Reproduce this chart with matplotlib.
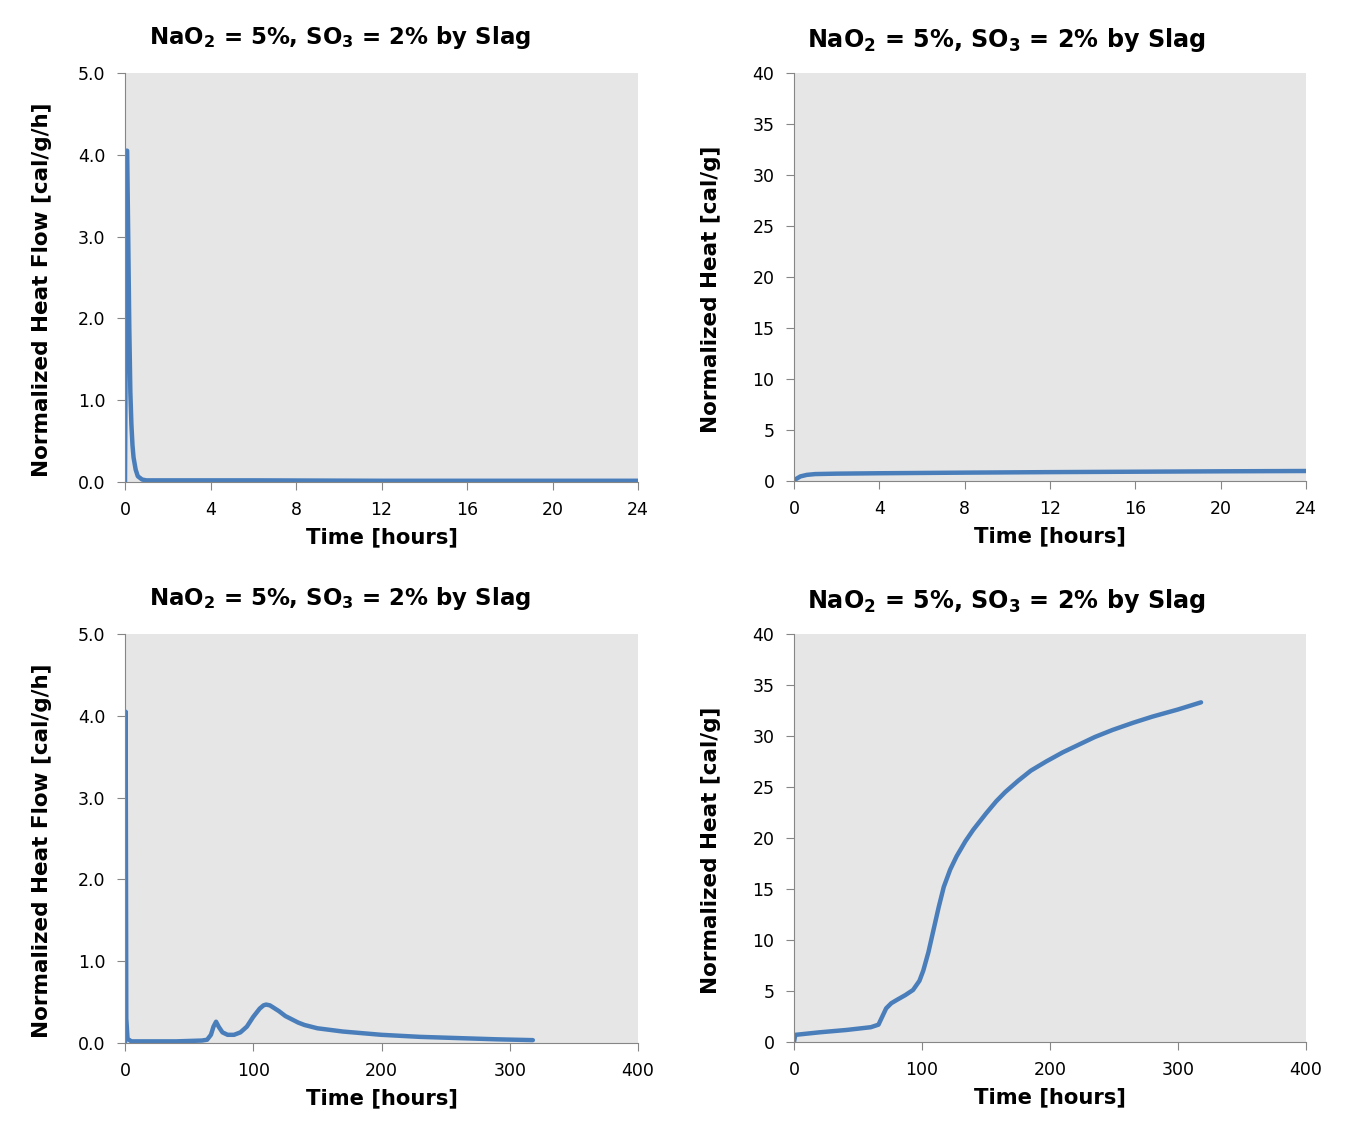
import matplotlib
matplotlib.use("Agg")
import matplotlib.pyplot as plt

plt.rcParams['font.family'] = ['DejaVu Sans']
plt.rcParams['mathtext.default'] = 'bf'

title = "NaO$_2$ = 5%, SO$_3$ = 2% by Slag"

# heat flow, first 24 h
flow24_t = [0, 0.03, 0.06, 0.1, 0.15, 0.2, 0.25, 0.3, 0.35, 0.4, 0.5, 0.6, 0.8, 1, 3, 6, 12, 18, 24]
flow24_q = [0, 1.5, 4.05, 4.05, 3.0, 1.9, 1.1, 0.7, 0.45, 0.3, 0.15, 0.07, 0.03, 0.02, 0.02, 0.02, 0.015, 0.015, 0.015]

# cumulative heat, first 24 h
heat24_t = [0, 0.1, 0.3, 0.6, 1, 2, 4, 8, 12, 16, 20, 24]
heat24_q = [0, 0.2, 0.45, 0.6, 0.68, 0.72, 0.76, 0.82, 0.87, 0.91, 0.95, 0.98]

# heat flow, full run
flow_t = [0, 0.5, 1, 2, 5, 20, 40, 60, 64, 67, 69, 71, 73, 76, 80, 85, 90, 95, 100, 105,
          108, 110, 113, 116, 120, 125, 130, 135, 140, 150, 160, 170, 185, 200, 230, 260, 290, 318]
flow_q = [0, 4.05, 0.3, 0.05, 0.02, 0.02, 0.02, 0.03, 0.04, 0.1, 0.2, 0.26, 0.2, 0.13, 0.1, 0.1,
          0.13, 0.2, 0.32, 0.42, 0.46, 0.47, 0.46, 0.43, 0.39, 0.33, 0.29, 0.25, 0.22, 0.18, 0.16,
          0.14, 0.12, 0.1, 0.075, 0.06, 0.045, 0.035]

# cumulative heat, full run
heat_t = [0, 1, 20, 41, 60, 66, 69, 72, 76, 80, 87, 93, 98, 101, 105, 109, 113, 117, 122, 127,
          134, 140, 150, 158, 165, 175, 185, 197, 210, 220, 235, 249, 265, 280, 300, 318]
heat_q = [0, 0.7, 0.95, 1.18, 1.45, 1.7, 2.5, 3.3, 3.8, 4.1, 4.6, 5.1, 6.0, 7.0, 8.8, 11, 13.2,
          15.2, 16.9, 18.2, 19.7, 20.8, 22.4, 23.6, 24.5, 25.6, 26.6, 27.5, 28.4, 29.0, 29.9,
          30.6, 31.3, 31.9, 32.6, 33.3]

line_col = '#4a7ebb'
spine_col = '#868686'

fig = plt.figure(figsize=(13.53, 11.22), dpi=100)

W, H = 1353, 1122
boxes = [(125, 73, 513, 409), (794, 73, 512, 408), (125, 634, 513, 409), (794, 634, 512, 408)]
axs = [fig.add_axes([l / W, (H - t - h) / H, w / W, h / H]) for l, t, w, h in boxes]

panels = [
    (flow24_t, flow24_q, 24, [0, 4, 8, 12, 16, 20, 24], 5, 'flow'),
    (heat24_t, heat24_q, 24, [0, 4, 8, 12, 16, 20, 24], 40, 'heat'),
    (flow_t, flow_q, 400, [0, 100, 200, 300, 400], 5, 'flow'),
    (heat_t, heat_q, 400, [0, 100, 200, 300, 400], 40, 'heat'),
]

for ax, (t, q, xmax, xt, ymax, kind) in zip(axs, panels):
    ax.set_facecolor('#e6e6e6')
    ax.plot(t, q, color=line_col, lw=3.2, solid_capstyle='round', solid_joinstyle='round')
    ax.set_xlim(0, xmax)
    ax.set_ylim(0, ymax)
    ax.set_xticks(xt)
    for s in ['top', 'right']:
        ax.spines[s].set_visible(False)
    for s in ['left', 'bottom']:
        ax.spines[s].set_color(spine_col)
    ax.tick_params(colors=spine_col, length=6, direction='out', labelsize=12.5, labelcolor='black', pad=8)
    if kind == 'flow':
        ax.set_yticks([0, 1, 2, 3, 4, 5])
        ax.set_yticklabels(['%.1f' % v for v in [0, 1, 2, 3, 4, 5]])
        ax.set_ylabel('Normalized Heat Flow [cal/g/h]', fontsize=15.5, fontweight='bold', va='center')
        ax.text(0.419, 1.086, title, transform=ax.transAxes, ha='center', va='center',
                fontsize=16.5, fontweight='bold')
    else:
        ax.set_yticks(range(0, 41, 5))
        ax.set_ylabel('Normalized Heat [cal/g]', fontsize=15.5, fontweight='bold', va='center')
        ax.text(0.415, 1.082, title, transform=ax.transAxes, ha='center', va='center',
                fontsize=17.2, fontweight='bold')
    ax.yaxis.set_label_coords(-0.162, 0.47)
    ax.set_xlabel('Time [hours]', fontsize=15.2, fontweight='bold', va='center')
    ax.xaxis.set_label_coords(0.5, -0.135)

fig.savefig('out.png', dpi=100)
